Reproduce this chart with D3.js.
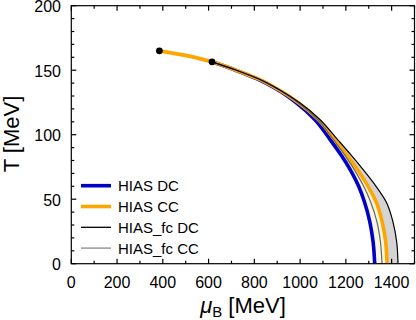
<!DOCTYPE html>
<html>
<head>
<meta charset="utf-8">
<script src="https://cdn.jsdelivr.net/npm/d3@7"></script>
<style>
  body { margin: 0; background: #fff; }
  svg { display: block; font-family: "Liberation Sans", Arial, sans-serif; }
</style>
</head>
<body>
<div id="chart"></div>
<script>
// common temperature grid (MeV), shared by all four curves
const tGrid  = [156.5, 150, 143, 135, 124.5, 112, 96, 84, 72, 60, 48, 33, 17, 0];
const muDC   = [615, 718, 815, 900, 985, 1063, 1132, 1180, 1222, 1256, 1281, 1304, 1319, 1326];
const muCC   = [615, 720, 820, 905, 995, 1078, 1152, 1206, 1254, 1297, 1332, 1358, 1374, 1380];
const muFcDC = [615, 722, 823, 908, 1000, 1085, 1165, 1224, 1280, 1332, 1376, 1405, 1422, 1428];
const muFcCC = [615, 720, 820, 905, 993, 1075, 1146, 1196, 1240, 1278, 1308, 1335, 1351, 1358];
// extra piece of the CC line above the grid
const ccTopMu = [385, 500];
const ccTopT  = [165, 161.5];
// marked points
const dotsMu = [385, 615];
const dotsT  = [165, 156.5];

const xTicks = [0, 200, 400, 600, 800, 1000, 1200, 1400];
const yTicks = [0, 50, 100, 150, 200];

const legendItems = [
  { label: 'HIAS DC', color: '#0000c8', width: 3.6 },
  { label: 'HIAS CC', color: '#ffa500', width: 3.6 },
  { label: 'HIAS_fc DC', color: '#000', width: 1.3 },
  { label: 'HIAS_fc CC', color: '#999', width: 1.5 }
];

const W = 416, H = 320;
const x = d3.scaleLinear().domain([0, 1500]).range([71.3, 414.5]);
const y = d3.scaleLinear().domain([0, 200]).range([263.7, 5.7]);

const svg = d3.select('#chart').append('svg').attr('width', W).attr('height', H);

const rows = tGrid.map((t, i) => ({ t, dc: muDC[i], cc: muCC[i], fdc: muFcDC[i], fcc: muFcCC[i] }));

const band = (a, b) => d3.area()
  .curve(d3.curveMonotoneY)
  .y(d => y(d.t))
  .x0(d => x(d[a]))
  .x1(d => x(d[b]));

// grey band between the fc curves, beige band between DC and CC on top
svg.append('path').attr('d', band('fcc', 'fdc')(rows)).attr('fill', '#d4d4d4');
svg.append('path').attr('d', band('dc', 'cc')(rows)).attr('fill', '#f7f7e1');

const line = d3.line().curve(d3.curveMonotoneY).x(d => x(d[0])).y(d => y(d[1]));

const ccPts = ccTopMu.map((m, i) => [m, ccTopT[i]]).concat(rows.map(r => [r.cc, r.t]));

svg.append('path').attr('d', line(rows.map(r => [r.dc, r.t])))
  .attr('fill', 'none').attr('stroke', legendItems[0].color).attr('stroke-width', 3.6);
svg.append('path').attr('d', line(ccPts))
  .attr('fill', 'none').attr('stroke', legendItems[1].color).attr('stroke-width', 3.6);
svg.append('path').attr('d', line(rows.map(r => [r.fcc, r.t])))
  .attr('fill', 'none').attr('stroke', '#666').attr('stroke-width', 1.2);
svg.append('path').attr('d', line(rows.map(r => [r.fdc, r.t])))
  .attr('fill', 'none').attr('stroke', '#000').attr('stroke-width', 1.2);

svg.selectAll('circle.dot').data(dotsMu).join('circle')
  .attr('class', 'dot')
  .attr('cx', d => x(d))
  .attr('cy', (d, i) => y(dotsT[i]))
  .attr('r', 3.4)
  .attr('fill', '#000');

// frame with inward ticks on all sides
const [x0, x1] = x.range();
const [y0, y1] = y.range();
svg.append('rect')
  .attr('x', x0).attr('y', y1).attr('width', x1 - x0).attr('height', y0 - y1)
  .attr('fill', 'none').attr('stroke', '#000').attr('stroke-width', 1.2);

const xMinor = d3.range(0, 1501, 100);
const yMinor = d3.range(0, 201, 10);
const tk = svg.append('g').attr('stroke', '#000').attr('stroke-width', 1.2);
xMinor.forEach(v => {
  const len = v % 200 === 0 ? 5 : 3;
  tk.append('line').attr('x1', x(v)).attr('x2', x(v)).attr('y1', y0).attr('y2', y0 - len);
  tk.append('line').attr('x1', x(v)).attr('x2', x(v)).attr('y1', y1).attr('y2', y1 + len);
});
yMinor.forEach(v => {
  const len = v % 50 === 0 ? 5 : 3;
  tk.append('line').attr('y1', y(v)).attr('y2', y(v)).attr('x1', x0).attr('x2', x0 + len);
  tk.append('line').attr('y1', y(v)).attr('y2', y(v)).attr('x1', x1).attr('x2', x1 - len);
});

svg.append('g').selectAll('text').data(xTicks).join('text')
  .attr('x', d => x(d)).attr('y', 288)
  .attr('text-anchor', 'middle').attr('font-size', 16)
  .text(d => d);

svg.append('g').selectAll('text').data(yTicks).join('text')
  .attr('x', 61).attr('y', d => y(d)).attr('dy', '0.42em')
  .attr('text-anchor', 'end').attr('font-size', 16)
  .text(d => d);

// axis titles
const xt = svg.append('text').attr('x', 243).attr('y', 313)
  .attr('text-anchor', 'middle').attr('font-size', 22);
xt.append('tspan').attr('font-style', 'italic').text('μ');
xt.append('tspan').attr('font-size', 15).attr('dy', 4).text('B');
xt.append('tspan').attr('dy', -4).text(' [MeV]');

svg.append('text')
  .attr('transform', 'translate(19,134) rotate(-90)')
  .attr('text-anchor', 'middle').attr('font-size', 22)
  .text('T [MeV]');

// legend
const lg = svg.append('g');
legendItems.forEach((d, i) => {
  const ly = 185.7 + i * 20.8;
  lg.append('line').attr('x1', 81).attr('x2', 111).attr('y1', ly).attr('y2', ly)
    .attr('stroke', d.color).attr('stroke-width', d.width);
  lg.append('text').attr('x', 118).attr('y', ly).attr('dy', '0.36em')
    .attr('font-size', 15).text(d.label);
});
</script>
</body>
</html>
